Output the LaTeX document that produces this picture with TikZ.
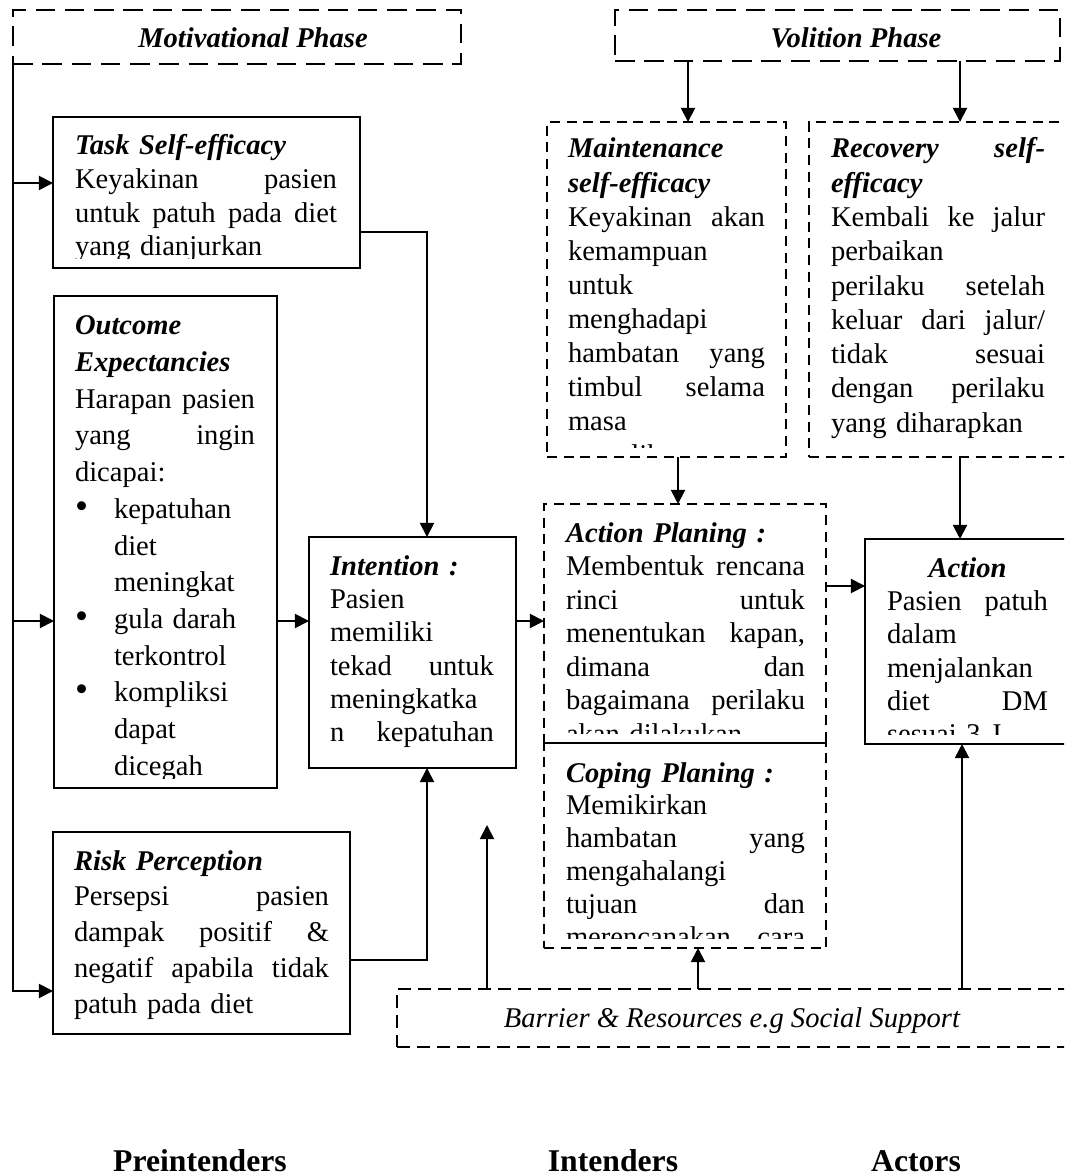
\documentclass[tikz,border=0pt]{standalone}
\usepackage{fontspec}
\setmainfont{Liberation Serif}
\usetikzlibrary{arrows.meta}

\newdimen\dpx
\dpx=0.42pt
\newcommand{\tw}[1][14.3]{\fontsize{12}{#1}\selectfont}
\newcommand{\jl}[1]{\makebox[\hsize][s]{\spaceskip=0pt\xspaceskip=0pt #1}}
\newcommand{\cl}[1]{\makebox[\hsize][c]{#1}}
\newcommand{\bi}[1]{\textbf{\textit{#1}}}
\newcommand{\itm}[2][\scalebox{1.3}{\textbullet}]{\makebox[39\dpx][l]{#1}#2}

\tikzset{
  solidbox/.style={draw, line width=0.9pt, inner sep=0pt, outer sep=0pt, anchor=north west},
  dashbox/.style={solidbox, line width=0.8pt, dash pattern=on 4.2pt off 2.8pt},
  phasebox/.style={solidbox, line width=0.8pt, dash pattern=on 8.2pt off 4.1pt},
  txt/.style={inner sep=0pt, outer sep=0pt, anchor=base west, align=left},
  arr/.style={line width=0.8pt, -{Triangle[length=5.9pt,width=5.9pt]}}
}

\begin{document}
\begin{tikzpicture}[x=0.42pt, y=-0.42pt]
\useasboundingbox (0,0) rectangle (1064,1175);
\clip (0,0) rectangle (1064,1175);

\node[phasebox, minimum width=448\dpx, minimum height=54\dpx] (motiv) at (13,10) {};
\node[anchor=base, font=\tw\bfseries\itshape] (motivtxt) at (253,48) {Motivational Phase};
\node[phasebox, minimum width=445\dpx, minimum height=51\dpx] (volit) at (615,10) {};
\node[anchor=base, font=\tw\bfseries\itshape] (volittxt) at (856,48) {Volition Phase};

\node[solidbox, minimum width=307\dpx, minimum height=151\dpx] (task) at (53,117) {};
\node[solidbox, minimum width=223\dpx, minimum height=492\dpx] (outcome) at (54,296) {};
\node[solidbox, minimum width=297\dpx, minimum height=202\dpx] (risk) at (53,832) {};
\node[solidbox, minimum width=207\dpx, minimum height=231\dpx] (intent) at (309,537) {};
\node[dashbox, minimum width=239\dpx, minimum height=335\dpx] (maint) at (547,122) {};
\node[dashbox, minimum width=266\dpx, minimum height=335\dpx] (recov) at (809,122) {};
\node[dashbox, minimum width=282\dpx, minimum height=239\dpx] (actplan) at (544,504) {};
\node[dashbox, minimum width=282\dpx, minimum height=205\dpx] (coping) at (544,743) {};
\node[solidbox, minimum width=215\dpx, minimum height=205\dpx] (action) at (865,539) {};
\node[dashbox, dash pattern=on 5.4pt off 3pt, minimum width=678\dpx, minimum height=58\dpx] (barrier) at (397,989) {};
\node[anchor=base, font=\tw\itshape] (barriertxt) at (732,1027) {Barrier \& Resources e.g Social Support};

\begin{scope}
  \clip ([yshift=4pt]task.south west) rectangle (task.north east);
  \node[txt, text width=262\dpx, font={\tw[14.1]}] (tasktxt) at (75,155)
    {\bi{Task Self-efficacy}\\ \jl{Keyakinan pasien}\\ \jl{untuk patuh pada diet}\\ yang dianjurkan};
\end{scope}
\begin{scope}
  \clip ([yshift=4pt]outcome.south west) rectangle (outcome.north east);
  \node[txt, text width=180\dpx, font={\tw[15.4]}] (outcometxt) at (75,335)
    {\bi{Outcome}\\ \bi{Expectancies}\\ \jl{Harapan pasien}\\ \jl{yang ingin}\\ dicapai:\\
     \itm{kepatuhan}\\ \itm[]{diet}\\ \itm[]{meningkat}\\ \itm{gula darah}\\ \itm[]{terkontrol}\\
     \itm{kompliksi}\\ \itm[]{dapat}\\ \itm[]{dicegah}};
\end{scope}
\node[txt, text width=164\dpx, font={\tw[14.0]}] (intenttxt) at (330,575)
  {\bi{Intention :}\\ Pasien\\ memiliki\\ \jl{tekad untuk}\\ meningkatka\\ \jl{n kepatuhan}};
\node[txt, text width=255\dpx, font={\tw[15.1]}] (risktxt) at (74,870)
  {\bi{Risk Perception}\\ \jl{Persepsi pasien}\\ \jl{dampak positif \&}\\ \jl{negatif apabila tidak}\\ patuh pada diet};
\begin{scope}
  \clip ([yshift=4pt]maint.south west) rectangle (maint.north east);
  \node[txt, text width=197\dpx, font={\tw[14.3]}] (mainttxt) at (568,158)
    {\bi{Maintenance}\\ \bi{self-efficacy}\\ \jl{Keyakinan akan}\\ kemampuan\\ untuk\\ menghadapi\\
     \jl{hambatan yang}\\ \jl{timbul selama}\\ masa\\ pemulihan};
\end{scope}
\node[txt, text width=214\dpx, font={\tw[14.4]}] (recovtxt) at (831,158)
  {\jl{\bi{Recovery self-}}\\ \bi{efficacy}\\ \jl{Kembali ke jalur}\\ perbaikan\\ \jl{perilaku setelah}\\
   \jl{keluar dari jalur/}\\ \jl{tidak sesuai}\\ \jl{dengan perilaku}\\ yang diharapkan};
\begin{scope}
  \clip ([yshift=4pt]actplan.south west) rectangle (actplan.north east);
  \node[txt, text width=239\dpx, font={\tw[14.1]}] (actplantxt) at (566,542)
    {\bi{Action Planing :}\\ \jl{Membentuk rencana}\\ \jl{rinci untuk}\\ \jl{menentukan kapan,}\\
     \jl{dimana dan}\\ \jl{bagaimana perilaku}\\ akan dilakukan};
\end{scope}
\begin{scope}
  \clip ([yshift=4pt]coping.south west) rectangle (coping.north east);
  \node[txt, text width=239\dpx, font={\tw[13.8]}] (copingtxt) at (566,782)
    {\bi{Coping Planing :}\\ Memikirkan\\ \jl{hambatan yang}\\ mengahalangi\\ \jl{tujuan dan}\\ \jl{merencanakan cara}};
\end{scope}
\begin{scope}
  \clip ([yshift=4pt]action.south west) rectangle (action.north east);
  \node[txt, text width=161\dpx, font={\tw[14.0]}] (actiontxt) at (887,577)
    {\cl{\bi{Action}}\\ \jl{Pasien patuh}\\ dalam\\ menjalankan\\ \jl{diet DM}\\ sesuai 3 J};
\end{scope}

\draw[arr] (motiv.south west) |- (risk.west |- 0,991);
\draw[arr] (motiv.south west |- 0,183) -- (task.west |- 0,183);
\draw[arr] (motiv.south west |- 0,621) -- (outcome.west |- 0,621);
\draw[arr] (task.east |- 0,232) -| (intent.north -| 427,0);
\draw[arr] (risk.east |- 0,960) -| (intent.south -| 427,0);
\draw[arr] (outcome.east |- 0,621) -- (intent.west |- 0,621);
\draw[arr] (intent.east |- 0,621) -- (actplan.west |- 0,621);
\draw[arr] (actplan.east |- 0,586) -- (action.west |- 0,586);
\draw[arr] (volit.south -| 688,0) -- (maint.north -| 688,0);
\draw[arr] (volit.south -| 960,0) -- (recov.north -| 960,0);
\draw[arr] (maint.south -| 678,0) -- (actplan.north -| 678,0);
\draw[arr] (recov.south -| 960,0) -- (action.north -| 960,0);
\draw[arr] (barrier.north -| 698,0) -- (coping.south -| 698,0);
\draw[arr] (barrier.north -| 962,0) -- (action.south -| 962,0);
\coordinate (open) at (487,825);
\draw[arr] (barrier.north -| 487,0) -- (open);

\node[anchor=base, font=\fontsize{13.3}{16}\selectfont\bfseries] (pre) at (200,1171) {Preintenders};
\node[anchor=base, font=\fontsize{13.3}{16}\selectfont\bfseries] (intenders) at (613,1171) {Intenders};
\node[anchor=base, font=\fontsize{13.3}{16}\selectfont\bfseries] (actors) at (916,1171) {Actors};
\end{tikzpicture}
\end{document}
